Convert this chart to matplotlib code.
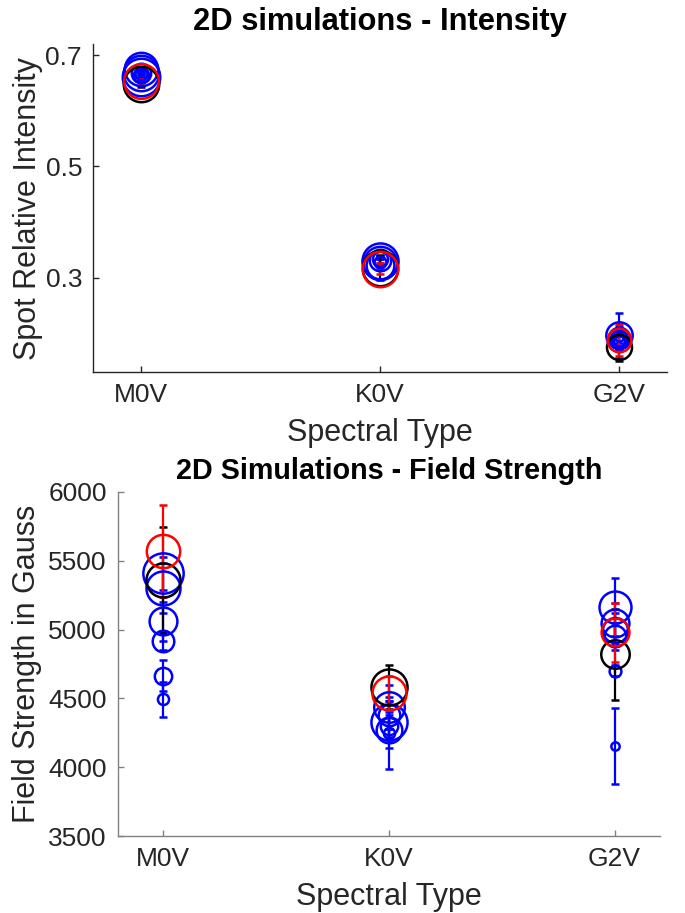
import matplotlib
matplotlib.use("Agg")
import matplotlib.pyplot as plt

plt.rcParams["font.family"] = ["Liberation Sans", "DejaVu Sans"]

spectral_types = ["M0V", "K0V", "G2V"]

# spot relative intensity, one row per spectral type
int_blue = [[0.675, 0.669, 0.662, 0.668, 0.664, 0.666],
            [0.330, 0.327, 0.323, 0.331, 0.333, 0.328],
            [0.196, 0.192, 0.190, 0.188, 0.185, 0.193]]
int_blue_err = [[0.005, 0.005, 0.005, 0.004, 0.004, 0.004],
                [0.009, 0.008, 0.010, 0.007, 0.006, 0.006],
                [0.040, 0.020, 0.018, 0.015, 0.012, 0.010]]
int_blue_size = [[24, 25.5, 27, 14, 11, 8.5],
                 [26, 24, 20, 15.5, 11, 8.5],
                 [19, 15.5, 12.5, 10, 7.5, 6]]
int_red = [0.654, 0.316, 0.187]
int_red_err = [0.004, 0.010, 0.029]
int_red_size = [25, 25.5, 17]
int_black = [0.648, 0.318, 0.175]
int_black_err = [0.004, 0.022, 0.026]
int_black_size = [25.5, 25.5, 18]

# field strength in gauss
fs_blue = [[5410, 5300, 5060, 4920, 4665, 4495],
           [4330, 4440, 4270, 4380, 4300, 4250],
           [5164, 5046, 5000, 4950, 4700, 4154]]
fs_blue_err = [[120, 180, 140, 70, 115, 127],
               [150, 160, 130, 100, 80, 260],
               [210, 150, 120, 100, 40, 275]]
fs_blue_size = [[29, 24.5, 20, 15.5, 12.5, 8],
                [26, 22, 18.5, 15.5, 12.5, 8],
                [23, 20, 18, 15.5, 8.5, 6]]
fs_red = [5570, 4537, 4980]
fs_red_err = [335, 125, 215]
fs_red_size = [24, 24.5, 20]
fs_black = [5360, 4581, 4820]
fs_black_err = [385, 160, 330]
fs_black_size = [24.5, 26, 20.5]

TEXT = "#262626"


def draw_point(ax, x, y, err, size, color):
    ax.errorbar(x, y, yerr=err, fmt="o", ms=size, mfc="none", mec=color,
                mew=1.8, color=color, elinewidth=1.6, capsize=3, capthick=1.6)


def draw_panel(ax, blue, blue_err, blue_size, red, red_err, red_size,
               black, black_err, black_size):
    for i in range(len(spectral_types)):
        x = i + 1
        for y, e, s in zip(blue[i], blue_err[i], blue_size[i]):
            draw_point(ax, x, y, e, s, "blue")
        draw_point(ax, x, black[i], black_err[i], black_size[i], "black")
        draw_point(ax, x, red[i], red_err[i], red_size[i], "red")


def style_axes(ax, spine_color):
    for side in ("top", "right"):
        ax.spines[side].set_visible(False)
    for side in ("left", "bottom"):
        ax.spines[side].set_color(spine_color)
        ax.spines[side].set_linewidth(1.0)
    ax.tick_params(direction="in", length=4, width=1.0, color=spine_color,
                   labelcolor=TEXT, labelsize=19, pad=8)
    ax.set_xlim(0.8, 3.2)
    ax.set_xticks([1, 2, 3])
    ax.set_xticklabels(spectral_types)
    ax.set_xlabel("Spectral Type", fontsize=22, color=TEXT, labelpad=8)


fig = plt.figure(figsize=(6.85, 9.13), dpi=100)

ax1 = fig.add_axes([0.136, 0.5925, 0.838, 0.359])
draw_panel(ax1, int_blue, int_blue_err, int_blue_size, int_red, int_red_err,
           int_red_size, int_black, int_black_err, int_black_size)
style_axes(ax1, "#262626")
ax1.set_ylim(0.13, 0.72)
ax1.set_yticks([0.3, 0.5, 0.7])
ax1.set_ylabel("Spot Relative Intensity", fontsize=22, color=TEXT)
ax1.yaxis.set_label_coords(-0.087, 0.5)
ax1.set_title("2D simulations - Intensity", fontsize=22.2, fontweight="bold",
              pad=10)

ax2 = fig.add_axes([0.172, 0.0843, 0.791, 0.377])
draw_panel(ax2, fs_blue, fs_blue_err, fs_blue_size, fs_red, fs_red_err,
           fs_red_size, fs_black, fs_black_err, fs_black_size)
style_axes(ax2, "#808080")
ax2.set_ylim(3500, 6000)
ax2.set_yticks([3500, 4000, 4500, 5000, 5500, 6000])
ax2.set_ylabel("Field Strength in Gauss", fontsize=22, color=TEXT)
ax2.yaxis.set_label_coords(-0.140, 0.5)
ax2.set_title("2D Simulations - Field Strength", fontsize=20.7,
              fontweight="bold", pad=9)

fig.savefig("out.png", dpi=100)
